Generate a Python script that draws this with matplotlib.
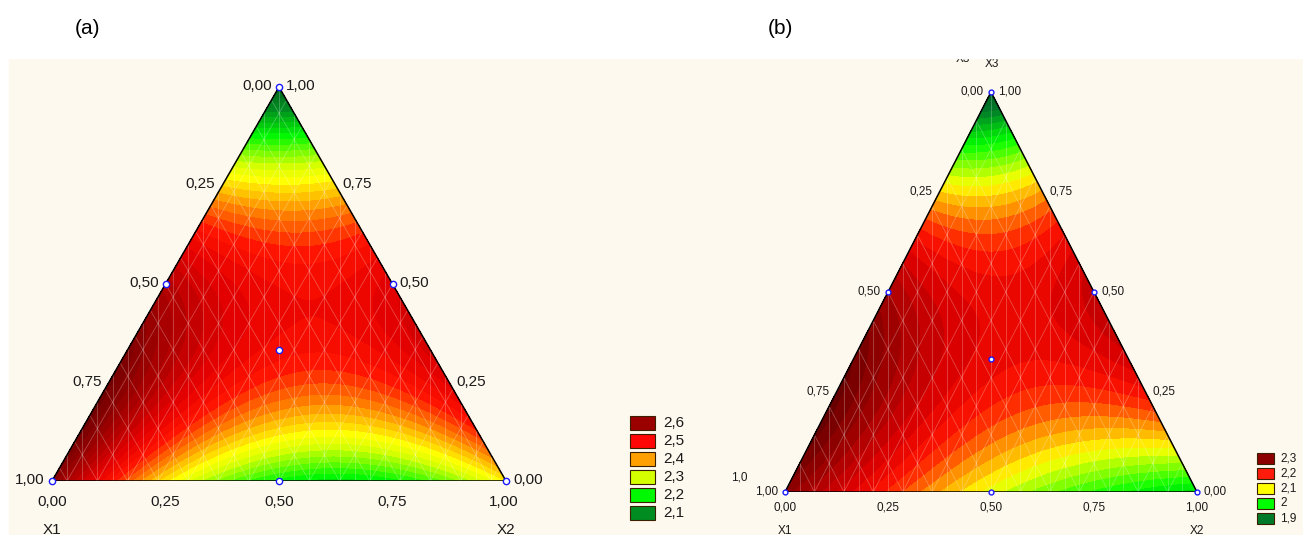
# ternary contour plots (a) and (b) of a three-component mixture response

import numpy as np
import matplotlib.pyplot as plt
import matplotlib.tri as mtri
from matplotlib.colors import LinearSegmentedColormap
from matplotlib.patches import Polygon, Rectangle

plt.rcParams['font.family'] = ['Liberation Sans', 'DejaVu Sans']

W, H = 1303, 535
SQ = np.sqrt(3) / 2

# simplex-centroid design (X1, X2, X3)
design_x1 = [1, 0, 0, 0.5, 0.5, 0, 1 / 3]
design_x2 = [0, 1, 0, 0.5, 0, 0.5, 1 / 3]
design_x3 = [0, 0, 1, 0, 0.5, 0.5, 1 / 3]

# responses at the design points
resp_a = [2.66, 2.35, 2.00, 2.20, 2.60, 2.54, 2.50]
resp_b = [2.33, 1.97, 1.83, 2.09, 2.30, 2.27, 2.23]

# legends
legend_a = ['2,6', '2,5', '2,4', '2,3', '2,2', '2,1']
legend_a_colors = ['#9a0000', '#ff0606', '#ffa000', '#d4ff00', '#00f800', '#008c20']
legend_b = ['2,3', '2,2', '2,1', '2', '1,9']
legend_b_colors = ['#8c0000', '#ff1c0c', '#ffff00', '#00ff00', '#007a2a']

# colour scales (value, colour)
scale_a = [(1.95, '#00501a'), (2.1, '#008c20'), (2.2, '#00f800'), (2.3, '#d4ff00'),
           (2.34, '#ffff00'), (2.4, '#ffa000'), (2.48, '#ff1400'), (2.54, '#e40000'),
           (2.62, '#a80000'), (2.72, '#640000')]
scale_b = [(1.78, '#00501a'), (1.9, '#007a2a'), (2.0, '#00ff00'), (2.1, '#ffff00'),
           (2.15, '#ff9000'), (2.2, '#ff1400'), (2.25, '#dc0000'), (2.31, '#a00000'),
           (2.38, '#600000')]

ticks = [0, 0.25, 0.5, 0.75, 1.0]


def fmt(v):
    return f'{v:.2f}'.replace('.', ',')


def special_cubic(x1, x2, x3):
    return np.column_stack([x1, x2, x3, x1 * x2, x1 * x3, x2 * x3, x1 * x2 * x3])


def make_cmap(scale):
    lo, hi = scale[0][0], scale[-1][0]
    return LinearSegmentedColormap.from_list(
        'mix', [((v - lo) / (hi - lo), c) for v, c in scale]), lo, hi


def pix_axes(fig, x0, y0, x1, y1):
    return fig.add_axes([x0 / W, 1 - y1 / H, (x1 - x0) / W, (y1 - y0) / H])


def ternary(ax, resp, scale, step, fs, ms, mesh_n):
    X = special_cubic(np.array(design_x1), np.array(design_x2), np.array(design_x3))
    coef, *_ = np.linalg.lstsq(X, np.array(resp), rcond=None)

    n = 120
    g1, g2 = [], []
    for i in range(n + 1):
        for j in range(n + 1 - i):
            g1.append(i / n)
            g2.append(j / n)
    g1, g2 = np.array(g1), np.array(g2)
    g3 = 1 - g1 - g2
    z = special_cubic(g1, g2, g3) @ coef
    tri = mtri.Triangulation(g2 + 0.5 * g3, SQ * g3)

    cmap, lo, hi = make_cmap(scale)
    levels = np.arange(lo, hi + step, step)
    ax.tricontourf(tri, z, levels=levels, cmap=cmap, vmin=lo, vmax=hi, extend='both')

    outline = Polygon([(0, 0), (1, 0), (0.5, SQ)], closed=True, fill=False,
                      edgecolor='black', lw=1.1, zorder=4)
    ax.add_patch(outline)
    clip = Polygon([(0, 0), (1, 0), (0.5, SQ)], closed=True, transform=ax.transData)

    # faint mesh lines: verticals dense, diagonals sparser
    for k in range(1, mesh_n):
        t = k / mesh_n
        ln, = ax.plot([t, t], [0, SQ], color='white', lw=0.6, alpha=0.28, zorder=3)
        ln.set_clip_path(clip)
    for k in range(-mesh_n // 2, mesh_n + mesh_n // 2, 2):
        t = k / mesh_n
        for xs in ([t, t + 0.5], [t, t - 0.5]):
            ln, = ax.plot(xs, [0, SQ], color='white', lw=0.6, alpha=0.28, zorder=3)
            ln.set_clip_path(clip)

    # design points
    px = np.array(design_x2) + 0.5 * np.array(design_x3)
    py = SQ * np.array(design_x3)
    ax.plot(px, py, 'o', ms=ms, mfc='white', mec='#1a1aff', mew=1.0,
            zorder=6, clip_on=False)

    kw = dict(textcoords='offset pixels', fontsize=fs, color='#1a1a1a',
              annotation_clip=False)
    for t in ticks:
        # left side: X1
        ax.annotate(fmt(1 - t), (0.5 * t, SQ * t), xytext=(-7, 1),
                    ha='right', va='center', **kw)
        # right side: X3
        ax.annotate(fmt(t), (1 - 0.5 * t, SQ * t), xytext=(7, 1),
                    ha='left', va='center', **kw)
    ax.set_xlim(0, 1)
    ax.set_ylim(0, SQ)
    ax.axis('off')
    return kw


fig = plt.figure(figsize=(W / 100, H / 100), dpi=100)
fig.patch.set_facecolor('white')
fig.add_artist(Rectangle((9 / W, 0), 1 - 9 / W, 1 - 58 / H,
                         transform=fig.transFigure, color='#fef9ee', zorder=0))

# panel (a)
ax_a = pix_axes(fig, 52, 87, 506, 481)
kw = ternary(ax_a, resp_a, scale_a, 0.02, 11, 4.5, 30)
for t in ticks[:-1]:
    ax_a.annotate(fmt(t), (t, 0), xytext=(0, -21), ha='center', va='center', **kw)
ax_a.annotate(fmt(1.0), (1, 0), xytext=(-2, -21), ha='center', va='center', **kw)
ax_a.annotate('X1', (0, 0), xytext=(0, -49), ha='center', va='center', **kw)
ax_a.annotate('X2', (1, 0), xytext=(0, -49), ha='center', va='center', **kw)

# panel (b)
ax_b = pix_axes(fig, 785, 92, 1197, 492)
kw = ternary(ax_b, resp_b, scale_b, 0.02, 8.5, 3.5, 28)
for t in ticks:
    ax_b.annotate(fmt(t), (t, 0), xytext=(0, -15), ha='center', va='center', **kw)
ax_b.annotate('X1', (0, 0), xytext=(0, -39), ha='center', va='center', **kw)
ax_b.annotate('X2', (1, 0), xytext=(0, -39), ha='center', va='center', **kw)
ax_b.annotate('1,0', (0, 0), xytext=(-46, 15), ha='center', va='center', **kw)
ax_b.annotate('X3', (0.5, SQ), xytext=(-28, 33), ha='center', va='center', **kw)
ax_b.annotate('X3', (0.5, SQ), xytext=(1, 28), ha='center', va='center', **kw)

# white band on top (hides the clipped X3 labels)
fig.add_artist(Rectangle((0, 1 - 58 / H), 1, 58 / H, transform=fig.transFigure,
                         color='white', zorder=10))
fig.text(88 / W, 1 - 29 / H, '(a)', fontsize=15, ha='center', va='center', zorder=11)
fig.text(780 / W, 1 - 29 / H, '(b)', fontsize=15, ha='center', va='center', zorder=11)

# legends
lg_a = pix_axes(fig, 620, 405, 720, 530)
lg_a.set_xlim(620, 720)
lg_a.set_ylim(530, 405)
lg_a.axis('off')
for i, (lab, col) in enumerate(zip(legend_a, legend_a_colors)):
    top = 416 + 18 * i
    lg_a.add_patch(Rectangle((630, top), 25, 14, facecolor=col, edgecolor='#3a2000', lw=0.8))
    lg_a.text(663, top + 7, lab, fontsize=11, ha='left', va='center', color='#1a1a1a')

lg_b = pix_axes(fig, 1250, 445, 1303, 530)
lg_b.set_xlim(1250, 1303)
lg_b.set_ylim(530, 445)
lg_b.axis('off')
for i, (lab, col) in enumerate(zip(legend_b, legend_b_colors)):
    top = 453 + 15 * i
    lg_b.add_patch(Rectangle((1257, top), 17, 11, facecolor=col, edgecolor='#3a2000', lw=0.8))
    lg_b.text(1280, top + 5.5, lab, fontsize=8.5, ha='left', va='center', color='#1a1a1a')

fig.savefig('out.png', dpi=100)
